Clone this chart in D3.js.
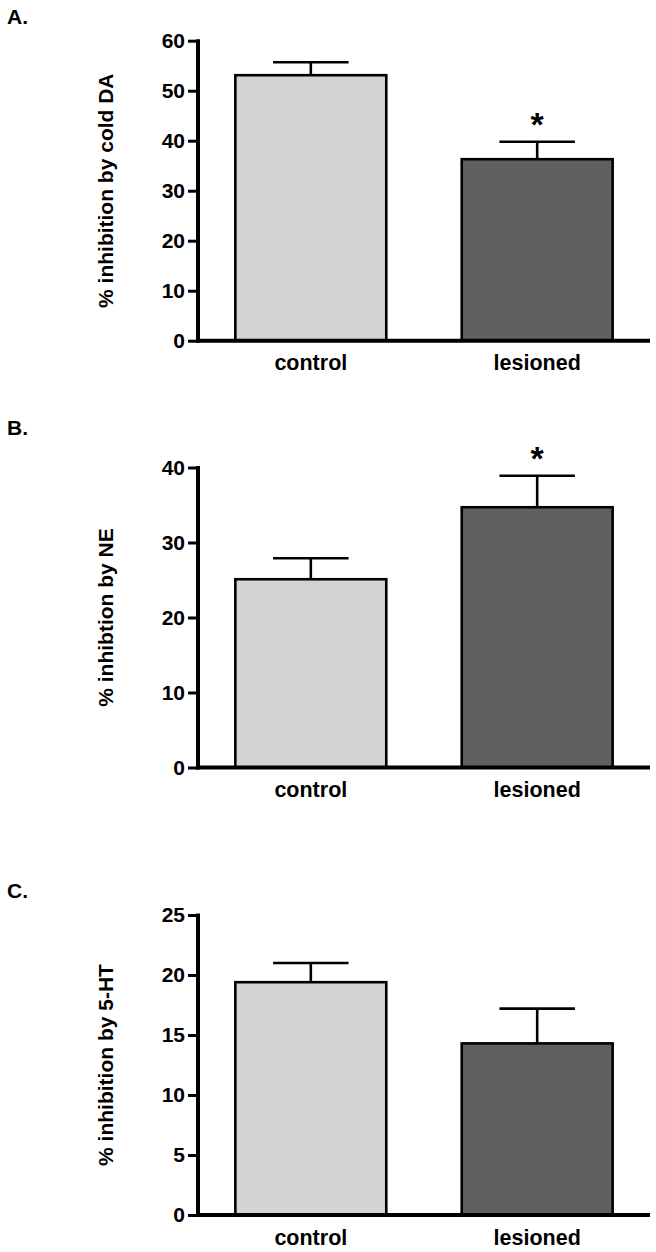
<!DOCTYPE html>
<html>
<head>
<meta charset="utf-8">
<script src="https://cdn.jsdelivr.net/npm/d3@7"></script>
<style>
  html, body { margin: 0; padding: 0; background: #fff; }
  svg { display: block; }
  text { font-family: "Liberation Sans", Arial, sans-serif; font-weight: bold; fill: #000; }
</style>
</head>
<body>
<svg id="chart" width="656" height="1252"></svg>
<script>
// ---- data ----
const categories = ["control", "lesioned"];
const panelLetters = ["A.", "B.", "C."];
const yTitles = ["% inhibition by cold DA", "% inhibtion by NE", "% inhibition by 5-HT"];
const meansA = [53.1, 36.3];
const semA = [2.6, 3.5];
const meansB = [25.1, 34.7];
const semB = [2.8, 4.2];
const meansC = [19.4, 14.3];
const semC = [1.6, 2.9];
const sigA = [false, true];
const sigB = [false, true];
const sigC = [false, false];
const yMaxes = [60, 40, 25];
const ticksA = [0, 10, 20, 30, 40, 50, 60];
const ticksB = [0, 10, 20, 30, 40];
const ticksC = [0, 5, 10, 15, 20, 25];
const barColors = ["#d3d3d3", "#606060"];

// ---- layout ----
const panels = [
  { letter: panelLetters[0], title: yTitles[0], means: meansA, sem: semA, sig: sigA, yMax: yMaxes[0], ticks: ticksA, top: 40.7, letterY: 24 },
  { letter: panelLetters[1], title: yTitles[1], means: meansB, sem: semB, sig: sigB, yMax: yMaxes[1], ticks: ticksB, top: 467.5, letterY: 435 },
  { letter: panelLetters[2], title: yTitles[2], means: meansC, sem: semC, sig: sigC, yMax: yMaxes[2], ticks: ticksC, top: 915, letterY: 898 }
];
const plotH = 300;
const xLeft = 198, xRight = 650;
const svg = d3.select("#chart");

const x = d3.scaleBand().domain(categories).range([xLeft, xRight]).paddingInner(1/3).paddingOuter(0.165);

panels.forEach(p => {
  const g = svg.append("g");
  const y = d3.scaleLinear().domain([0, p.yMax]).range([p.top + plotH, p.top]);

  // panel letter
  g.append("text").attr("x", 7).attr("y", p.letterY).attr("font-size", 21).text(p.letter);

  // bars
  g.selectAll("rect.bar").data(categories).enter().append("rect")
    .attr("class", "bar")
    .attr("x", d => x(d))
    .attr("width", x.bandwidth())
    .attr("y", (d, i) => y(p.means[i]))
    .attr("height", (d, i) => y(0) - y(p.means[i]))
    .attr("fill", (d, i) => barColors[i])
    .attr("stroke", "#000")
    .attr("stroke-width", 2.6);

  // error bars
  const capHalf = x.bandwidth() / 4;
  categories.forEach((c, i) => {
    const cx = x(c) + x.bandwidth() / 2;
    const yt = y(p.means[i] + p.sem[i]);
    g.append("line").attr("x1", cx).attr("x2", cx).attr("y1", y(p.means[i])).attr("y2", yt)
      .attr("stroke", "#000").attr("stroke-width", 2.6);
    g.append("line").attr("x1", cx - capHalf).attr("x2", cx + capHalf).attr("y1", yt).attr("y2", yt)
      .attr("stroke", "#000").attr("stroke-width", 2.6);
    if (p.sig[i]) {
      g.append("text").attr("x", cx).attr("y", yt - 5.5).attr("text-anchor", "middle")
        .attr("font-size", 34).text("*");
    }
  });

  // y axis
  const yAxis = d3.axisLeft(y).tickValues(p.ticks).tickSize(10).tickSizeOuter(0).tickPadding(3).tickFormat(d3.format("d"));
  const ya = g.append("g").attr("transform", `translate(${xLeft},0)`).call(yAxis);
  ya.select(".domain").remove();
  ya.selectAll(".tick line").attr("stroke", "#000").attr("stroke-width", 3);
  ya.selectAll(".tick text").attr("font-size", 21).attr("font-family", "Liberation Sans, Arial, sans-serif").attr("font-weight", "bold").attr("fill", "#000");
  g.append("line").attr("x1", xLeft).attr("x2", xLeft).attr("y1", y(p.yMax) - 1.5).attr("y2", y(0) + 2)
    .attr("stroke", "#000").attr("stroke-width", 4);

  // x axis
  g.append("line").attr("x1", xLeft - 2).attr("x2", xRight).attr("y1", y(0)).attr("y2", y(0))
    .attr("stroke", "#000").attr("stroke-width", 4);
  g.selectAll("text.cat").data(categories).enter().append("text")
    .attr("class", "cat")
    .attr("x", d => x(d) + x.bandwidth() / 2)
    .attr("y", y(0) + 29.5)
    .attr("text-anchor", "middle")
    .attr("font-size", 21.5)
    .text(d => d);

  // y title
  g.append("text")
    .attr("transform", `translate(113,${p.top + plotH / 2}) rotate(-90)`)
    .attr("text-anchor", "middle")
    .attr("font-size", 21)
    .text(p.title);
});
</script>
</body>
</html>
